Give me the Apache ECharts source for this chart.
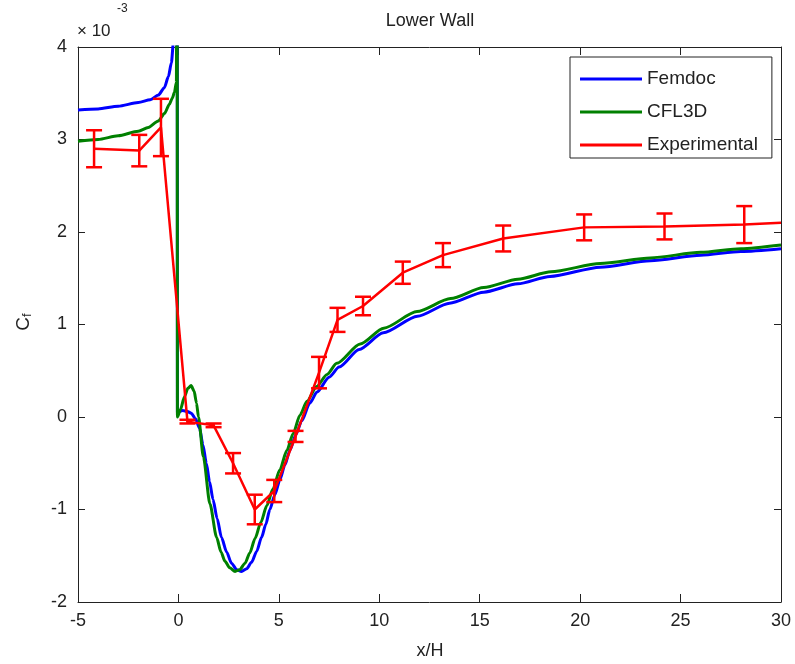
<!DOCTYPE html>
<html>
<head>
<meta charset="utf-8">
<script src="https://cdn.jsdelivr.net/npm/echarts@6/dist/echarts.min.js"></script>
<style>
html,body{margin:0;padding:0;background:#fff;}
#chart{width:795px;height:664px;}
</style>
</head>
<body>
<div id="chart"></div>
<script>
// ---- data (C_f values in units of 1e-3) ----
const xRange = [-5, 30];
const xInterval = 5;
const yRange = [-2, 4];
const yInterval = 1;

const femdocX = [-5, -4, -3, -2, -1.4, -1, -0.7, -0.5, -0.35, -0.25, -0.15, -0.06, -0.05, 0.21, 0.45, 0.64, 0.85, 1.05, 1.22, 1.39, 1.55, 1.72, 1.93, 2.14, 2.4, 2.64, 2.9, 3.14, 3.4, 3.64, 3.9, 4.14, 4.35, 4.55, 4.8, 5.05, 5.3, 5.55, 5.85, 6.14, 6.54, 6.9, 7.5, 8, 9, 10.2, 11.9, 13.5, 15.2, 16.9, 18.5, 21, 23.5, 26, 28, 30];
const femdocY = [3.32, 3.33, 3.36, 3.40, 3.43, 3.48, 3.56, 3.68, 3.83, 4.05, 4.6, 7, 0.05, 0.07, 0.06, 0.04, -0.02, -0.12, -0.3, -0.5, -0.7, -0.89, -1.1, -1.30, -1.46, -1.58, -1.65, -1.67, -1.64, -1.57, -1.45, -1.30, -1.16, -1.0, -0.84, -0.68, -0.52, -0.36, -0.19, -0.04, 0.15, 0.27, 0.43, 0.54, 0.73, 0.91, 1.09, 1.23, 1.35, 1.44, 1.52, 1.62, 1.69, 1.75, 1.79, 1.82];

const cfl3dX = [-5, -4, -3, -2, -1.5, -1, -0.7, -0.45, -0.3, -0.2, -0.1, -0.07, -0.05, 0.1, 0.3, 0.47, 0.63, 0.78, 0.9, 1.0, 1.24, 1.57, 1.9, 2.12, 2.32, 2.55, 2.82, 3.05, 3.32, 3.55, 3.82, 4.1, 4.4, 4.7, 5.05, 5.4, 5.71, 6.05, 6.4, 6.88, 7.4, 7.88, 9.05, 10.22, 11.88, 13.55, 15.2, 16.9, 18.55, 21, 23.5, 26, 28, 30];
const cfl3dY = [2.98, 3.0, 3.04, 3.09, 3.13, 3.2, 3.28, 3.38, 3.45, 3.51, 3.62, 9, 0.0, 0.08, 0.22, 0.31, 0.34, 0.28, 0.15, 0.0, -0.43, -0.94, -1.30, -1.46, -1.56, -1.63, -1.67, -1.65, -1.58, -1.47, -1.31, -1.14, -0.96, -0.78, -0.57, -0.36, -0.18, 0.02, 0.17, 0.33, 0.46, 0.58, 0.79, 0.96, 1.14, 1.28, 1.40, 1.49, 1.57, 1.66, 1.72, 1.78, 1.82, 1.86];

const expX = [-4.2, -1.95, -0.87, 0.45, 1.75, 2.72, 3.8, 4.77, 5.83, 7.0, 7.92, 9.19, 11.17, 13.17, 16.17, 20.2, 24.2, 28.17, 30];
const expY = [2.9, 2.88, 3.13, -0.05, -0.09, -0.5, -1.0, -0.8, -0.21, 0.48, 1.05, 1.2, 1.56, 1.75, 1.93, 2.05, 2.06, 2.08, 2.1];
const expErr = [0.2, 0.17, 0.31, 0.02, 0.02, 0.11, 0.16, 0.12, 0.06, 0.17, 0.13, 0.1, 0.12, 0.13, 0.14, 0.14, 0.14, 0.2, 0];

const seriesNames = ['Femdoc', 'CFL3D', 'Experimental'];
const seriesColors = ['#0000ff', '#008000', '#ff0000'];

// ---- build ----
const zip = (xs, ys) => xs.map((x, i) => [x, ys[i]]);
const errData = expX.map((x, i) => [x, expY[i] - expErr[i], expY[i] + expErr[i]]).filter((d, i) => expErr[i] > 0);

const FONT = "'Liberation Sans', Arial, sans-serif";
const axisCommonX = {
  type: 'value', min: xRange[0], max: xRange[1], interval: xInterval,
  axisLine: { show: true, onZero: false, lineStyle: { color: '#222', width: 1 } },
  axisTick: { show: true, inside: true, length: 8, lineStyle: { color: '#222' } },
  splitLine: { show: false }
};
const axisCommonY = {
  type: 'value', min: yRange[0], max: yRange[1], interval: yInterval,
  axisLine: { show: true, onZero: false, lineStyle: { color: '#222', width: 1 } },
  axisTick: { show: true, inside: true, length: 7, lineStyle: { color: '#222' } },
  splitLine: { show: false }
};

const chart = echarts.init(document.getElementById('chart'), null, { renderer: 'canvas' });
chart.setOption({
  animation: false,
  backgroundColor: '#fff',
  grid: { left: 78, right: 14, top: 47, bottom: 62, containLabel: false },
  xAxis: [
    Object.assign({}, axisCommonX, { position: 'bottom',
      axisLabel: { show: true, margin: 10, fontSize: 18, color: '#222', fontFamily: FONT } }),
    Object.assign({}, axisCommonX, { position: 'top', axisLabel: { show: false } })
  ],
  yAxis: [
    Object.assign({}, axisCommonY, { position: 'left',
      axisLabel: { show: true, margin: 11, fontSize: 18, color: '#222', fontFamily: FONT } }),
    Object.assign({}, axisCommonY, { position: 'right', axisLabel: { show: false } })
  ],
  legend: {
    show: true,
    data: seriesNames,
    orient: 'vertical',
    left: 570, top: 57,
    padding: [12, 14, 3, 10],
    itemGap: 13,
    itemWidth: 62, itemHeight: 3,
    icon: 'rect',
    backgroundColor: '#fff',
    borderColor: '#222', borderWidth: 1,
    textStyle: { fontSize: 19, color: '#222', fontFamily: FONT, lineHeight: 20 }
  },
  series: [
    { name: seriesNames[0], type: 'line', data: zip(femdocX, femdocY), showSymbol: false, symbol: 'none',
      smooth: 0.25, smoothMonotone: 'x', clip: true, z: 2,
      lineStyle: { color: seriesColors[0], width: 3 }, itemStyle: { color: seriesColors[0] } },
    { name: seriesNames[1], type: 'line', data: zip(cfl3dX, cfl3dY), showSymbol: false, symbol: 'none',
      smooth: 0.25, smoothMonotone: 'x', clip: true, z: 3,
      lineStyle: { color: seriesColors[1], width: 3 }, itemStyle: { color: seriesColors[1] } },
    { name: seriesNames[2], type: 'line', data: zip(expX, expY), showSymbol: false, symbol: 'none',
      clip: true, z: 4,
      lineStyle: { color: seriesColors[2], width: 2.5 }, itemStyle: { color: seriesColors[2] } },
    { name: 'Experimental error', type: 'custom', data: errData, z: 5,
      encode: { x: 0, y: [1, 2] },
      renderItem: function (params, api) {
        const x = api.value(0), lo = api.value(1), hi = api.value(2);
        const a = api.coord([x, lo]), b = api.coord([x, hi]);
        const hw = 8;
        const st = { stroke: seriesColors[2], lineWidth: 2.5 };
        return { type: 'group', children: [
          { type: 'line', shape: { x1: a[0], y1: a[1], x2: b[0], y2: b[1] }, style: st },
          { type: 'line', shape: { x1: a[0] - hw, y1: a[1], x2: a[0] + hw, y2: a[1] }, style: st },
          { type: 'line', shape: { x1: b[0] - hw, y1: b[1], x2: b[0] + hw, y2: b[1] }, style: st }
        ]};
      }
    }
  ],
  graphic: [
    { type: 'text', x: 430, y: 21, style: { text: 'Lower Wall', fontSize: 18, fontFamily: FONT, fill: '#222', align: 'center', verticalAlign: 'middle' } },
    { type: 'text', x: 430, y: 651, style: { text: 'x/H', fontSize: 18, fontFamily: FONT, fill: '#222', align: 'center', verticalAlign: 'middle' } },
    { type: 'text', x: 77, y: 31, style: { text: '× 10', fontSize: 17, fontFamily: FONT, fill: '#222', align: 'left', verticalAlign: 'middle' } },
    { type: 'text', x: 117, y: 9, style: { text: '-3', fontSize: 12, fontFamily: FONT, fill: '#222', align: 'left', verticalAlign: 'middle' } },
    { type: 'text', x: 22, y: 322, rotation: Math.PI / 2,
      style: { text: '{c|C}{f|f}', fontFamily: FONT, fill: '#222', align: 'center', verticalAlign: 'middle',
        rich: { c: { fontSize: 19, fontFamily: FONT, fill: '#222', verticalAlign: 'bottom' },
                f: { fontSize: 13, fontFamily: FONT, fill: '#222', padding: [10, 0, 0, 0] } } } }
  ]
});
</script>
</body>
</html>
